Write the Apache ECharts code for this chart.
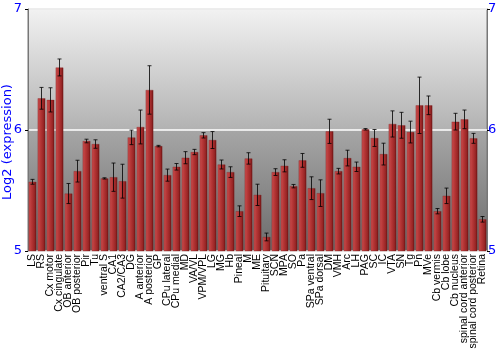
<!DOCTYPE html>
<html><head><meta charset="utf-8">
<script src="https://cdn.jsdelivr.net/npm/echarts@6/dist/echarts.min.js"></script>
<style>html,body{margin:0;padding:0;background:#fff}#c{width:500px;height:350px}</style>
</head><body><div id="c"></div>
<script>
const categories = ["LS","RS","Cx motor","Cx cingulate","OB anterior","OB posterior","Pir","Tu","ventral S","CA1","CA2/CA3","DG","A anterior","A posterior","GP","CPu lateral","CPu medial","MD","VA/VL","VPM/VPL","LG","MG","Hb","Pineal","M","ME","Pituitary","SCN","MPA","SO","Pa","SPa ventral","SPa dorsal","DM","VMH","Arc","LH","PAG","SC","IC","VTA","SN","Tg","Pn","MVe","Cb vermis","Cb lobe","Cb nucleus","spinal cord anterior","spinal cord posterior","Retina"];
const values = [5.572,6.262,6.249,6.517,5.475,5.66,5.909,5.884,5.60,5.61,5.577,5.939,6.025,6.331,5.867,5.627,5.696,5.771,5.818,5.956,5.917,5.715,5.652,5.329,5.765,5.464,5.116,5.652,5.704,5.536,5.749,5.519,5.478,5.989,5.66,5.768,5.696,6.006,5.934,5.801,6.05,6.039,5.983,6.204,6.204,5.329,5.456,6.069,6.088,5.931,5.262];
const errors = [0.02,0.09,0.1,0.07,0.083,0.09,0.015,0.035,0.005,0.117,0.14,0.06,0.14,0.2,0.006,0.05,0.027,0.05,0.022,0.022,0.07,0.037,0.044,0.044,0.047,0.088,0.032,0.028,0.05,0.014,0.057,0.094,0.11,0.1,0.023,0.065,0.039,0.006,0.07,0.09,0.108,0.107,0.09,0.233,0.077,0.022,0.064,0.069,0.077,0.041,0.023];
const yTicks = [5,6,7];
const yTitle = 'Log2 (expression)';

const chart = echarts.init(document.getElementById('c'), null, {renderer:'canvas'});
const blue = '#0000ff';
chart.setOption({
  animation:false,
  graphic:[{type:'text',x:8,y:142,rotation:Math.PI/2,
    style:{text:yTitle,fill:blue,fontSize:13,fontFamily:'DejaVu Sans, sans-serif',align:'center',verticalAlign:'middle'}}],
  grid:{left:28,right:13,top:9,bottom:99,containLabel:false,outerBoundsMode:'none',show:true,borderColor:'#777',borderWidth:1,
    backgroundColor:new echarts.graphic.LinearGradient(0,0,0,1,[
      {offset:0,color:'#f2f2f2'},{offset:0.5,color:'#b2b2b2'},{offset:0.5,color:'#a6a6a6'},{offset:1,color:'#6c6c6c'}])},
  xAxis:{type:'category',data:categories,
    axisLine:{show:false},axisTick:{show:false},
    axisLabel:{interval:0,rotate:90,fontSize:10.5,color:'#000',fontFamily:'Liberation Sans, Arial, sans-serif',margin:3}},
  yAxis:[{type:'value',min:yTicks[0],max:yTicks[2],interval:1,
    axisLine:{show:true,lineStyle:{color:'#777'}},axisTick:{show:true,length:3,lineStyle:{color:'#000'}},
    axisLabel:{color:blue,fontSize:13,margin:6,fontFamily:'DejaVu Sans, sans-serif'},
    splitLine:{show:true,lineStyle:{color:'#ffffff',width:1.5}}},
   {type:'value',min:yTicks[0],max:yTicks[2],interval:1,position:'right',
    axisLine:{show:true,lineStyle:{color:'#777'}},axisTick:{show:true,length:3,lineStyle:{color:'#000'}},
    axisLabel:{color:blue,fontSize:13,margin:1,fontFamily:'DejaVu Sans, sans-serif'},splitLine:{show:false}}],
  series:[
    {type:'bar',data:values,barCategoryGap:'14%',
     itemStyle:{color:new echarts.graphic.LinearGradient(0,0,1,0,[
       {offset:0,color:'#c85050'},{offset:0.35,color:'#b83838'},{offset:0.75,color:'#9a2626'},{offset:1,color:'#6a1414'}]),
       borderColor:'rgba(120,20,20,0.6)',borderWidth:0.5}},
    {type:'custom',data:values.map((v,i)=>[i,v-errors[i],v+errors[i]]),z:10,
     renderItem:function(params,api){
       const lo=api.coord([api.value(0),api.value(1)]);
       const hi=api.coord([api.value(0),api.value(2)]);
       const w=2;
       const st={stroke:'rgba(0,0,0,0.8)',lineWidth:1};
       return {type:'group',children:[
         {type:'line',shape:{x1:lo[0],y1:lo[1],x2:hi[0],y2:hi[1]},style:st},
         {type:'line',shape:{x1:lo[0]-w,y1:lo[1],x2:lo[0]+w,y2:lo[1]},style:st},
         {type:'line',shape:{x1:hi[0]-w,y1:hi[1],x2:hi[0]+w,y2:hi[1]},style:st}]};
     }}
  ]
});
</script></body></html>
